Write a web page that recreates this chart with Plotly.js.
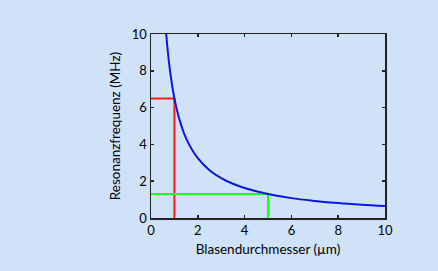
<!DOCTYPE html>
<html><head><meta charset="utf-8">
<script src="https://cdn.plot.ly/plotly-3.0.1.min.js"></script>
<style>html,body{margin:0;padding:0;background:#d0e2f8;}</style>
</head><body><div id="chart" style="width:438px;height:271px;"></div>
<script>
var diameter = [0.65, 0.7, 0.8, 0.9, 1, 1.2, 1.5, 2, 2.5, 3, 3.5, 4, 5, 6, 7, 8, 9, 10];
var frequency = [10, 9.29, 8.13, 7.22, 6.5, 5.42, 4.33, 3.25, 2.6, 2.17, 1.86, 1.63, 1.3, 1.08, 0.93, 0.81, 0.72, 0.65];
var redX = [0, 1, 1];
var redY = [6.5, 6.5, 0];
var greenX = [0, 5, 5];
var greenY = [1.3, 1.3, 0];
var xTicks = [0, 2, 4, 6, 8, 10];
var yTicks = [0, 2, 4, 6, 8, 10];

var font = 'Lato, "Open Sans", sans-serif';
var traces = [
  {x: redX, y: redY, mode: 'lines', line: {color: '#ff1a1a', width: 2}, hoverinfo: 'none'},
  {x: greenX, y: greenY, mode: 'lines', line: {color: '#1aff1a', width: 2}, hoverinfo: 'none'},
  {x: diameter, y: frequency, mode: 'lines', line: {color: '#0a14e6', width: 2, shape: 'spline'}, hoverinfo: 'none'}
];
var axisCommon = {
  range: [0, 10], showgrid: false, zeroline: false, showline: true, linecolor: '#222', linewidth: 1.5,
  mirror: 'ticks', ticks: 'inside', ticklen: 3, tickcolor: '#222', tickwidth: 1.5,
  tickfont: {family: font, size: 13, color: '#000'}, fixedrange: true
};
var layout = {
  width: 438, height: 271,
  margin: {l: 151, r: 53, t: 34, b: 53},
  paper_bgcolor: '#d0e2f8', plot_bgcolor: '#d0e2f8',
  showlegend: false,
  xaxis: Object.assign({}, axisCommon, {tickvals: xTicks, ticktext: xTicks.map(String),
    title: {text: 'Blasendurchmesser (µm)', font: {family: font, size: 13.5, color: '#000'}, standoff: 7}}),
  yaxis: Object.assign({}, axisCommon, {tickvals: yTicks, ticktext: yTicks.map(String),
    title: {text: 'Resonanzfrequenz (MHz)', font: {family: font, size: 13.5, color: '#000'}, standoff: 8}})
};
Plotly.newPlot('chart', traces, layout, {displayModeBar: false, staticPlot: true});
</script></body></html>
